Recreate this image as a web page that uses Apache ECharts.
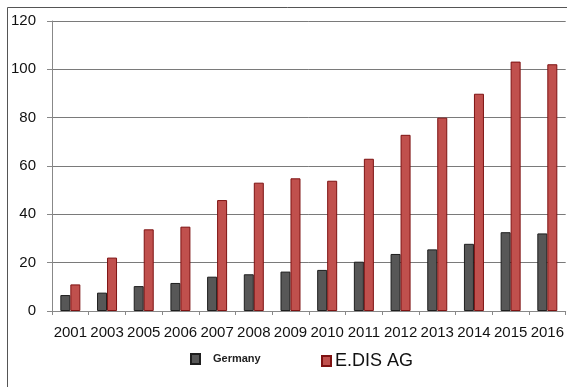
<!DOCTYPE html>
<html>
<head>
<meta charset="utf-8">
<script src="https://cdn.jsdelivr.net/npm/echarts@6/dist/echarts.min.js"></script>
<style>
  html, body { margin: 0; padding: 0; background: #fff; }
  #chart { width: 567px; height: 387px; }
</style>
</head>
<body>
<div id="chart"></div>
<script>
// years along the bottom
var years = ['2001','2003','2005','2006','2007','2008','2009','2010','2011','2012','2013','2014','2015','2016'];
// values
var germany = [6.6, 7.6, 10.3, 11.6, 14.2, 15.2, 16.3, 17.0, 20.4, 23.6, 25.5, 27.8, 32.6, 32.1];
var edis = [11.0, 22.1, 33.8, 34.9, 45.9, 53.1, 54.9, 53.9, 63.0, 72.9, 80.0, 89.9, 103.2, 102.1];
var yTicks = [0, 20, 40, 60, 80, 100, 120];

var chart = echarts.init(document.getElementById('chart'));
var option = {
  animation: false,
  backgroundColor: '#fff',
  textStyle: { fontFamily: 'Liberation Sans' },
  graphic: [{
    type: 'rect',
    shape: { x: 7.5, y: 7.5, width: 620, height: 420 },
    style: { fill: 'none', stroke: '#555', lineWidth: 1 },
    silent: true
  }],
  grid: { left: 52, top: 21, right: 1, bottom: 76, containLabel: false },
  legend: [{
    data: ['Germany'],
    left: 185, top: 348,
    itemWidth: 9, itemHeight: 10, icon: 'rect',
    textStyle: { fontSize: 11, fontWeight: 'bold', fontFamily: 'Liberation Sans', color: '#222', padding: [4, 0, 0, 8] }
  }, {
    data: ['E.DIS AG'],
    left: 316, top: 347,
    itemWidth: 9, itemHeight: 10, icon: 'rect',
    textStyle: { fontSize: 18, color: '#111', padding: [0, 0, 0, -1] }
  }],
  xAxis: {
    type: 'category',
    data: years,
    axisLine: { lineStyle: { color: '#888' } },
    axisTick: { show: true, length: 4, lineStyle: { color: '#888' } },
    axisLabel: { interval: 0, fontSize: 15, color: '#111', margin: 14 }
  },
  yAxis: {
    type: 'value',
    min: yTicks[0], max: yTicks[yTicks.length - 1], interval: 20,
    axisLine: { show: true, lineStyle: { color: '#888' } },
    axisTick: { show: true, length: 5, lineStyle: { color: '#888' } },
    axisLabel: { fontSize: 15, color: '#111', margin: 16 },
    splitLine: { lineStyle: { color: '#7a7a7a', width: 1 } }
  },
  series: [{
    name: 'Germany',
    type: 'bar',
    data: germany,
    barWidth: 10,
    barGap: '0%',
    itemStyle: { color: '#575757', borderColor: '#1e1e1e', borderWidth: 1 }
  }, {
    name: 'E.DIS AG',
    type: 'bar',
    data: edis,
    barWidth: 10,
    itemStyle: { color: '#c0504d', borderColor: '#7e1212', borderWidth: 1 }
  }]
};
chart.setOption(option);
</script>
</body>
</html>
